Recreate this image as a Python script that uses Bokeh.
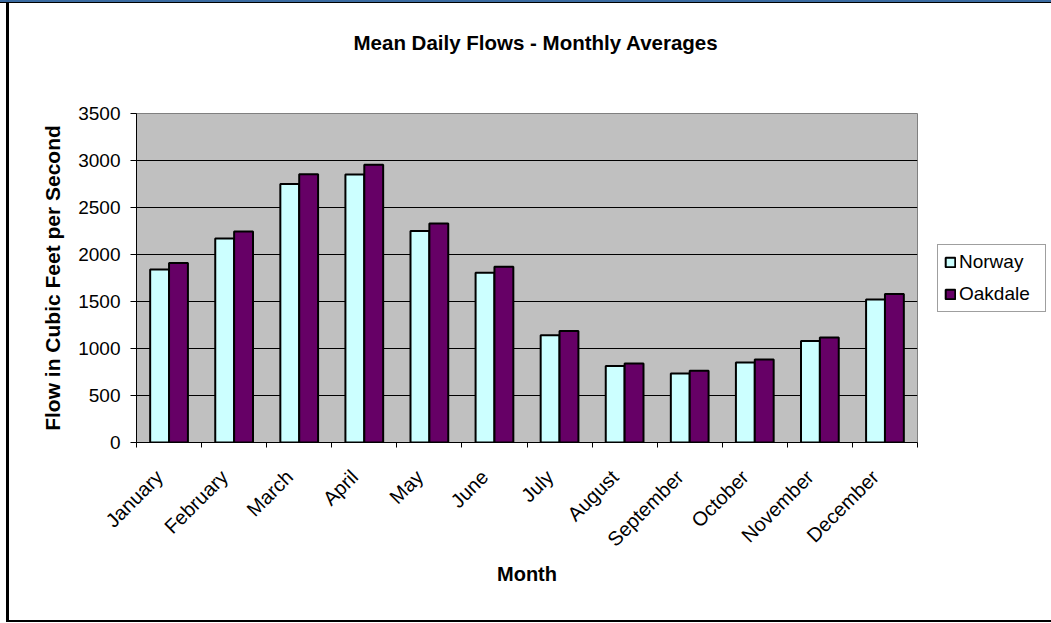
import numpy as np
from bokeh.plotting import figure
from bokeh.models import ColumnDataSource, Range1d, FixedTicker, Legend, LegendItem, Title
from bokeh.embed import file_html
from bokeh.resources import INLINE

# Monthly averages of mean daily flow (cfs)
months = ["January", "February", "March", "April", "May", "June", "July",
          "August", "September", "October", "November", "December"]
norway = [1840, 2170, 2750, 2850, 2250, 1805, 1140, 815, 735, 850, 1080, 1520]
oakdale = [1910, 2245, 2855, 2955, 2330, 1870, 1185, 840, 763, 883, 1117, 1580]
y_ticks = [0, 500, 1000, 1500, 2000, 2500, 3000, 3500]

FONT = "Liberation Sans"
NORWAY_COLOR = "#CCFFFF"
OAKDALE_COLOR = "#660066"

idx = np.arange(len(months))
centers = idx + 0.5
bar_w = 0.29
# slanted month names end a little left of each month's centre
label_pos = idx + 0.35

src = ColumnDataSource(dict(
    month=months,
    x_nor=centers - bar_w / 2,
    x_oak=centers + bar_w / 2,
    norway=norway,
    oakdale=oakdale,
))

# window frame drawn as CSS backgrounds behind the (transparent) canvas border
frame_css = ", ".join([
    "linear-gradient(#3B6BA1,#3B6BA1) 0 0/100% 2px no-repeat",
    "linear-gradient(#000,#000) 0 2px/100% 1px no-repeat",
    "linear-gradient(#000,#000) 6px 3px/3px 619px no-repeat",
    "linear-gradient(#000,#000) 6px 620px/100% 2px no-repeat",
    "#ffffff",
])

p = figure(frame_width=781, frame_height=329,
           output_backend="svg", toolbar_location=None,
           x_range=Range1d(0, len(months)), y_range=Range1d(0, y_ticks[-1]),
           min_border_left=136, min_border_right=134,
           min_border_top=113, min_border_bottom=181,
           background_fill_color="#C0C0C0",
           border_fill_color="white", border_fill_alpha=0,
           outline_line_color="#808080", outline_line_width=1,
           title_location=None,
           styles={"background": frame_css})

# chart title, lifted clear of the plot area by a blank spacer row
p.add_layout(Title(text=" ", text_font_size="10px", standoff=47), "above")
p.add_layout(Title(text="Mean Daily Flows - Monthly Averages", align="left",
                   offset=217, standoff=0, text_font=FONT,
                   text_font_style="bold", text_font_size="20.5px",
                   text_color="black"), "above")

r_nor = p.vbar(x="x_nor", top="norway", width=bar_w, source=src,
               fill_color=NORWAY_COLOR, line_color="black", line_width=2)
r_oak = p.vbar(x="x_oak", top="oakdale", width=bar_w, source=src,
               fill_color=OAKDALE_COLOR, line_color="black", line_width=2)

# horizontal gridlines
p.xgrid.grid_line_color = None
p.ygrid.ticker = FixedTicker(ticks=y_ticks)
p.ygrid.grid_line_color = "black"
p.ygrid.grid_line_width = 1

# y axis
yax = p.yaxis[0]
yax.ticker = FixedTicker(ticks=y_ticks)
yax.axis_label = "Flow in Cubic Feet per Second"
yax.axis_label_text_font = FONT
yax.axis_label_text_font_style = "bold"
yax.axis_label_text_font_size = "21px"
yax.axis_label_text_color = "black"
yax.axis_label_standoff = 11
yax.major_label_text_font = FONT
yax.major_label_text_font_size = "19px"
yax.major_label_text_color = "black"
yax.major_label_standoff = 10
yax.major_tick_in = 0
yax.major_tick_out = 6
yax.major_tick_line_color = "black"
yax.minor_tick_line_color = None
yax.axis_line_color = "black"

# x axis: slanted month names, tick marks on the month boundaries
xax = p.xaxis[0]
xax.ticker = FixedTicker(ticks=[float(t) for t in label_pos],
                         minor_ticks=[float(i) for i in range(len(months) + 1)])
xax.major_label_overrides = {float(t): m for t, m in zip(label_pos, months)}
xax.major_label_orientation = np.pi / 4
xax.major_label_text_font = FONT
xax.major_label_text_font_size = "20px"
xax.major_label_text_color = "black"
xax.major_label_standoff = 26
xax.major_tick_line_color = None
xax.major_tick_in = 0
xax.major_tick_out = 5
xax.minor_tick_in = 0
xax.minor_tick_out = 5
xax.minor_tick_line_color = "black"
xax.axis_line_color = "black"
xax.axis_label = "Month"
xax.axis_label_text_font = FONT
xax.axis_label_text_font_style = "bold"
xax.axis_label_text_font_size = "20px"
xax.axis_label_text_color = "black"
xax.axis_label_standoff = 2

legend = Legend(items=[LegendItem(label="Norway", renderers=[r_nor]),
                       LegendItem(label="Oakdale", renderers=[r_oak])],
                location="left", margin=20, padding=6, spacing=10,
                glyph_width=12, glyph_height=12, label_standoff=3,
                label_height=21, label_width=80,
                label_text_font=FONT, label_text_font_size="19px",
                label_text_color="black",
                border_line_color="#404040", border_line_width=1,
                background_fill_color="white", background_fill_alpha=1)
p.add_layout(legend, "right")

open("out.html", "w").write(file_html(p, INLINE))
